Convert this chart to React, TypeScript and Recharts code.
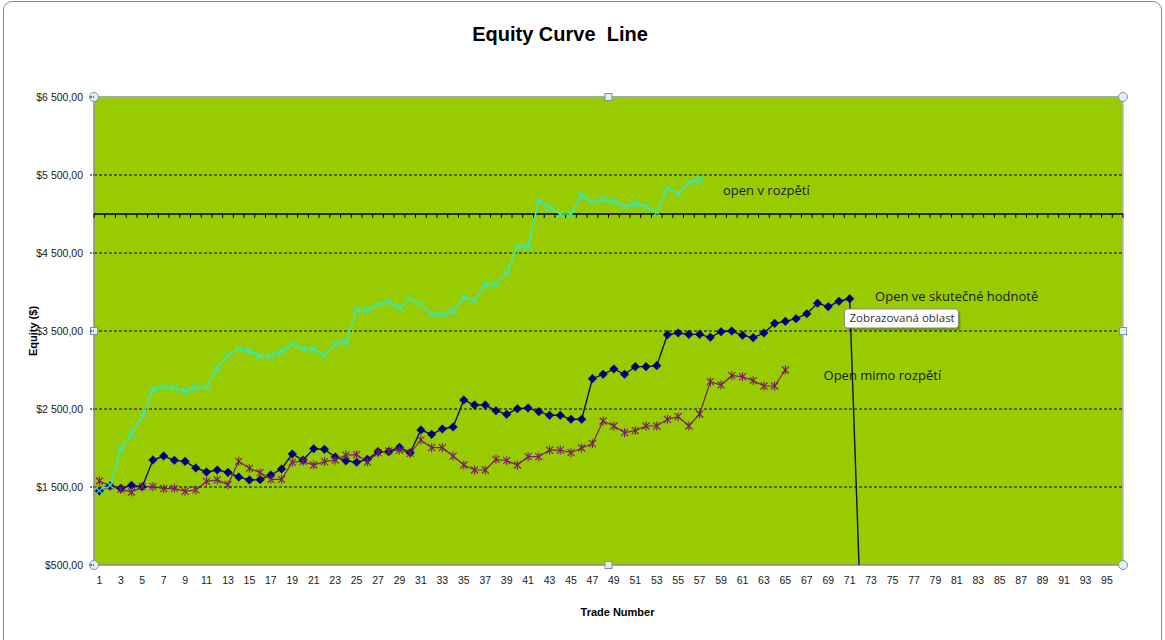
import React from 'react';
import { LineChart, Line, XAxis, YAxis, CartesianGrid, ReferenceLine, ReferenceDot, ReferenceArea } from 'recharts';

const trades: number[] = Array.from({ length: 96 }, (_, i) => i + 1);

const openVRozpeti = [
  1453, 1526, 1987, 2179, 2402, 2752, 2786, 2773, 2722, 2778,
  2778, 3022, 3192, 3274, 3235, 3183, 3183, 3235, 3329, 3274,
  3265, 3192, 3333, 3360, 3769, 3769, 3838, 3872, 3795, 3914,
  3838, 3714, 3714, 3756, 3932, 3889, 4090, 4111, 4239, 4581,
  4581, 5171, 5081, 5000, 5000, 5235, 5155, 5192, 5159, 5094,
  5137, 5094, 5017, 5329, 5265, 5402, 5445,
];

const openVeSkutecne = [
  1449, 1513, 1483, 1521, 1504, 1846, 1897, 1842, 1829, 1744,
  1692, 1718, 1688, 1628, 1590, 1594, 1654, 1731, 1923, 1846,
  1991, 1983, 1885, 1835, 1817, 1855, 1953, 1953, 2009, 1940,
  2231, 2175, 2244, 2269, 2615, 2551, 2551, 2478, 2432, 2504,
  2513, 2466, 2419, 2419, 2368, 2368, 2889, 2945, 3013, 2945,
  3043, 3043, 3056, 3453, 3474, 3457, 3457, 3419, 3491, 3500,
  3445, 3415, 3474, 3598, 3624, 3658, 3722, 3855, 3812, 3881,
  3914, 0,
];

const openMimo = [
  1577, 1513, 1470, 1436, 1504, 1504, 1479, 1483, 1445, 1462,
  1573, 1590, 1530, 1829, 1740, 1684, 1599, 1599, 1820, 1829,
  1782, 1825, 1846, 1910, 1914, 1820, 1940, 1962, 1974, 1932,
  2103, 2004, 2004, 1897, 1782, 1718, 1718, 1855, 1837, 1782,
  1889, 1889, 1974, 1974, 1940, 2000, 2055, 2346, 2282, 2197,
  2223, 2282, 2282, 2368, 2402, 2282, 2436, 2850, 2808, 2927,
  2915, 2863, 2795, 2795, 3000,
];

const yTicks = [500, 1500, 2500, 3500, 4500, 5500, 6500];
const gridValues = [1500, 2500, 3500, 4500, 5500];

const data = trades.map((n, i) => ({
  n,
  cyan: openVRozpeti[i],
  blue: openVeSkutecne[i],
  purple: openMimo[i],
}));

const CYAN = '#38E8B8';
const NAVY = '#000080';
const PLUM = '#7A1E66';

const fmt = (v: number) => {
  const th = Math.floor(v / 1000);
  const rest = v % 1000;
  const s = th > 0 ? `${th} ${String(rest).padStart(3, '0')}` : `${rest}`;
  return `$${s},00`;
};

const CrossDot = (p: any) => {
  const { cx, cy, value, index } = p;
  if (cx == null || cy == null || value == null) return <g key={`c${index}`} />;
  const r = 3.5;
  return (
    <g key={`c${index}`}>
      <line x1={cx - r} y1={cy - r} x2={cx + r} y2={cy + r} stroke={CYAN} strokeWidth={1.2} />
      <line x1={cx - r} y1={cy + r} x2={cx + r} y2={cy - r} stroke={CYAN} strokeWidth={1.2} />
    </g>
  );
};

const DiamondDot = (p: any) => {
  const { cx, cy, value, index } = p;
  if (cx == null || cy == null || value == null || value < 500) return <g key={`d${index}`} />;
  const r = 4.3;
  return (
    <polygon
      key={`d${index}`}
      points={`${cx},${cy - r} ${cx + r},${cy} ${cx},${cy + r} ${cx - r},${cy}`}
      fill={NAVY}
      stroke={NAVY}
      strokeWidth={0.5}
    />
  );
};

const StarDot = (p: any) => {
  const { cx, cy, value, index } = p;
  if (cx == null || cy == null || value == null) return <g key={`s${index}`} />;
  const r = 3.5;
  return (
    <g key={`s${index}`}>
      <line x1={cx - r} y1={cy - r} x2={cx + r} y2={cy + r} stroke={PLUM} strokeWidth={1.1} />
      <line x1={cx - r} y1={cy + r} x2={cx + r} y2={cy - r} stroke={PLUM} strokeWidth={1.1} />
      <line x1={cx} y1={cy - 4.5} x2={cx} y2={cy + 4.5} stroke={PLUM} strokeWidth={1.1} />
    </g>
  );
};

const AxisLineWithTicks = (p: any) => {
  const { x1, y1, x2 } = p;
  const left = Math.min(x1, x2);
  const right = Math.max(x1, x2);
  const n = trades.length;
  const w = (right - left) / n;
  const ticks = [];
  for (let i = 0; i <= n; i++) {
    const x = left + i * w;
    ticks.push(<line key={i} x1={x} y1={y1} x2={x} y2={y1 + 4} stroke="#000" strokeWidth={1} />);
  }
  return (
    <g>
      <line x1={left} y1={y1} x2={right} y2={y1} stroke="#000" strokeWidth={1.6} />
      {ticks}
    </g>
  );
};

const Frame = (p: any) => {
  const { x, y, width, height } = p;
  if (x == null) return <g />;
  const handleC = (cx: number, cy: number, k: string) => (
    <circle key={k} cx={cx} cy={cy} r={4.5} fill="#E4EEF6" stroke="#7F93A6" strokeWidth={1} />
  );
  const handleS = (cx: number, cy: number, k: string) => (
    <rect key={k} x={cx - 3.5} y={cy - 3.5} width={7} height={7} fill="#E4EEF6" stroke="#7F93A6" strokeWidth={1} />
  );
  return (
    <g>
      <line x1={x} y1={y} x2={x + width} y2={y} stroke="#A8A8A8" strokeWidth={2} />
      <line x1={x} y1={y} x2={x} y2={y + height} stroke="#8C8C8C" strokeWidth={1.5} />
      <line x1={x + width} y1={y} x2={x + width} y2={y + height} stroke="#B8B8B8" strokeWidth={1.5} />
      <line x1={x} y1={y + height} x2={x + width} y2={y + height} stroke="#8C8C8C" strokeWidth={1.5} />
      {handleC(x, y, 'a')}
      {handleC(x + width, y, 'b')}
      {handleC(x, y + height, 'c')}
      {handleC(x + width, y + height, 'd')}
      {handleS(x + width / 2, y, 'e')}
      {handleS(x + width / 2, y + height, 'f')}
      {handleS(x, y + height / 2, 'g')}
      {handleS(x + width, y + height / 2, 'h')}
    </g>
  );
};

const TooltipBox = (p: any) => {
  const vb = p.viewBox || {};
  const x = vb.x ?? 0;
  const y = vb.y ?? 0;
  const bx = x - 16;
  const by = y - 9;
  return (
    <g>
      <rect x={bx + 2} y={by + 2} width={114} height={19} rx={3} fill="rgba(0,0,0,0.25)" />
      <rect x={bx} y={by} width={114} height={19} rx={3} fill="#FFFFFF" stroke="#8A8A8A" strokeWidth={1} />
      <text x={bx + 5} y={by + 13.5} fontSize={11.5} fontFamily="'Open Sans', 'Liberation Sans', sans-serif" fill="#333">
        Zobrazovaná oblast
      </text>
    </g>
  );
};

const annotFont = "'Open Sans', 'Liberation Sans', sans-serif";

export default function App() {
  return (
    <div style={{ position: 'absolute', left: 0, top: 0, width: 1165, height: 640, background: '#fff', overflow: 'hidden' }}>
      <div
        style={{
          position: 'absolute',
          left: 3,
          top: 1,
          width: 1157,
          height: 700,
          border: '1px solid #7D8D9C',
          borderRadius: 9,
          pointerEvents: 'none',
          zIndex: 2,
        }}
      />
      <div
        style={{
          position: 'absolute',
          left: 0,
          width: 1120,
          top: 23,
          textAlign: 'center',
          fontFamily: "'Liberation Sans', Arial, sans-serif",
          fontWeight: 'bold',
          fontSize: 20,
          color: '#000',
          whiteSpace: 'pre',
          zIndex: 3,
        }}
      >
        {'Equity Curve  Line'}
      </div>
      <LineChart
        width={1165}
        height={640}
        data={data}
        margin={{ top: 97, right: 42, left: 0, bottom: 0 }}
        style={{ fontFamily: "'Liberation Sans', Arial, sans-serif" }}
      >
        <CartesianGrid
          vertical={false}
          horizontalValues={gridValues}
          stroke="#000"
          strokeDasharray="3 2"
          fill="#99CC00"
          fillOpacity={1}
        />
        <XAxis
          dataKey="n"
          type="category"
          scale="band"
          interval={1}
          height={75}
          tickLine={false}
          axisLine={false}
          tickMargin={6}
          tick={{ fontSize: 10.5, fill: '#1a1a1a' }}
          label={{ value: 'Trade Number', position: 'insideBottom', offset: 24, dx: 9, fontSize: 11, fontWeight: 'bold', fill: '#000' }}
        />
        <YAxis
          width={94}
          domain={[500, 6500]}
          ticks={yTicks}
          allowDataOverflow
          tickFormatter={fmt}
          axisLine={false}
          tickLine={{ stroke: '#000', strokeDasharray: '2 1' }}
          tickSize={4}
          tickMargin={7}
          tick={{ fontSize: 10.5, fill: '#1a1a1a' }}
          label={{
            content: (p: any) => {
              const vb = p.viewBox || {};
              const cx = (vb.x ?? 0) + 33;
              const cy = (vb.y ?? 0) + (vb.height ?? 0) / 2;
              return (
                <text x={cx} y={cy} transform={`rotate(-90 ${cx} ${cy})`} textAnchor="middle" dominantBaseline="central" fontSize={11} fontWeight="bold" fill="#000">
                  Equity ($)
                </text>
              );
            },
          }}
        />
        <ReferenceLine y={5000} shape={AxisLineWithTicks} ifOverflow="visible" />
        <ReferenceArea y1={500} y2={6500} fill="none" shape={Frame} ifOverflow="visible" />
        <Line
          dataKey="blue"
          stroke="#10104A"
          strokeWidth={1.4}
          dot={DiamondDot}
          activeDot={false}
          isAnimationActive={false}
          connectNulls={false}
        />
        <Line
          dataKey="purple"
          stroke={PLUM}
          strokeWidth={1.2}
          dot={StarDot}
          activeDot={false}
          isAnimationActive={false}
          connectNulls={false}
        />
        <Line
          dataKey="cyan"
          stroke={CYAN}
          strokeWidth={1.6}
          dot={CrossDot}
          activeDot={false}
          isAnimationActive={false}
          connectNulls={false}
        />
        <ReferenceDot
          x={59}
          y={5308}
          r={0}
          ifOverflow="visible"
          label={{ value: 'open v rozpětí', position: 'right', offset: 2, fontSize: 13, fill: '#1a1a1a', fontFamily: annotFont }}
        />
        <ReferenceDot
          x={73}
          y={3949}
          r={0}
          ifOverflow="visible"
          label={{ value: 'Open ve skutečné hodnotě', position: 'right', offset: 4, fontSize: 13, fill: '#1a1a1a', fontFamily: annotFont }}
        />
        <ReferenceDot
          x={68}
          y={2936}
          r={0}
          ifOverflow="visible"
          label={{ value: 'Open mimo rozpětí', position: 'right', offset: 6, fontSize: 13, fill: '#1a1a1a', fontFamily: annotFont }}
        />
        <ReferenceDot x={72} y={3667} r={0} ifOverflow="visible" label={{ content: TooltipBox }} />
      </LineChart>
    </div>
  );
}
